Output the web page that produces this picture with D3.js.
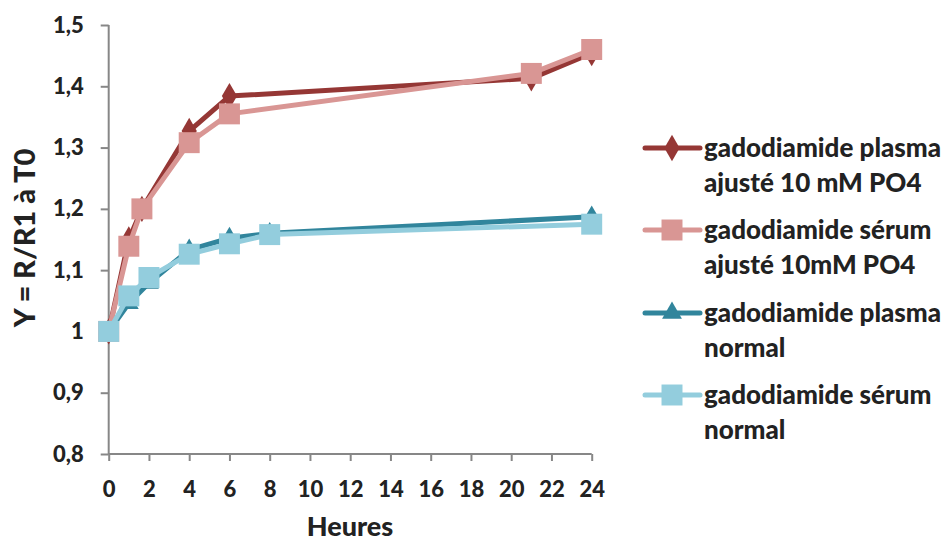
<!DOCTYPE html>
<html><head><meta charset="utf-8">
<script src="https://cdn.jsdelivr.net/npm/d3@7"></script>
<style>body{margin:0;background:#fff}svg{display:block}text{font-family:Lato,"Open Sans",sans-serif;font-weight:900;fill:#222}</style>
</head><body><svg id="c" width="946" height="543"></svg>
<script>
const xTicks = [0,2,4,6,8,10,12,14,16,18,20,22,24];
const yTicks = [0.8,0.9,1.0,1.1,1.2,1.3,1.4,1.5];
const yTickLabels = ["0,8","0,9","1","1,1","1,2","1,3","1,4","1,5"];
const hoursPlasmaPO4 = [0,1,1.65,4,6,21,24];
const plasmaPO4 = [1.0,1.15,1.2,1.327,1.384,1.413,1.454];
const hoursSerumPO4 = [0,1,1.65,4,6,21,24];
const serumPO4 = [1.0,1.139,1.2,1.308,1.355,1.421,1.46];
const hoursPlasmaNormal = [0,1,2,4,6,8,24];
const plasmaNormal = [1.0,1.046,1.079,1.133,1.152,1.16,1.187];
const hoursSerumNormal = [0,1,2,4,6,8,24];
const serumNormal = [1.0,1.058,1.088,1.126,1.143,1.158,1.175];
const seriesNames = [["gadodiamide plasma","ajusté 10 mM PO4"],["gadodiamide sérum","ajusté 10mM PO4"],["gadodiamide plasma","normal"],["gadodiamide sérum","normal"]];
const colors = ["#953735","#d99694","#31859c","#93cddd"];
const shapes = ["diamond","square","triangle","square"];

const series = [
  {x:hoursPlasmaPO4,y:plasmaPO4},
  {x:hoursSerumPO4,y:serumPO4},
  {x:hoursPlasmaNormal,y:plasmaNormal},
  {x:hoursSerumNormal,y:serumNormal}
];

const svg = d3.select("#c");
const x = d3.scaleLinear().domain([0,24]).range([108.7,591.7]);
const y = d3.scaleLinear().domain([0.8,1.5]).range([454,25]);
const axisColor = "#878787";

// axes
const gx = svg.append("g").attr("transform","translate(0,454)")
  .call(d3.axisBottom(x).tickValues(xTicks).tickSize(7).tickPadding(20).tickFormat(d=>d));
const gy = svg.append("g").attr("transform","translate(108.7,0)")
  .call(d3.axisLeft(y).tickValues(yTicks).tickSize(8).tickPadding(17).tickFormat((d,i)=>yTickLabels[i]));
[gx,gy].forEach(g=>{
  g.select(".domain").attr("stroke",axisColor).attr("stroke-width",2);
  g.selectAll(".tick line").attr("stroke",axisColor).attr("stroke-width",2);
  g.selectAll(".tick text").style("font-size","22px").attr("fill","#222");
});
gx.select(".domain").attr("d","M108.7,0H591.7");
gy.select(".domain").attr("d","M0,25V454");

svg.append("text").attr("x",350).attr("y",536).attr("text-anchor","middle").style("font-size","27px").text("Heures");
svg.append("text").attr("transform","translate(35,238) rotate(-90)").attr("text-anchor","middle").style("font-size","29px").text("Y = R/R1 à T0");

function symbolFor(s){
  if(s==="diamond") return d3.symbol().type(d3.symbolDiamond).size(200)();
  if(s==="triangle") return d3.symbol().type(d3.symbolTriangle).size(170)();
  return d3.symbol().type(d3.symbolSquare).size(440)();
}

const line = d3.line().x(d=>x(d[0])).y(d=>y(d[1]));
series.forEach((s,i)=>{
  const pts = s.x.map((v,j)=>[v,s.y[j]]);
  const g = svg.append("g");
  g.append("path").attr("d",line(pts)).attr("fill","none").attr("stroke",colors[i]).attr("stroke-width",5).attr("stroke-linejoin","round");
  g.selectAll("path.m").data(pts).enter().append("path").attr("class","m")
    .attr("transform",d=>`translate(${x(d[0])},${y(d[1])})`)
    .attr("d",symbolFor(shapes[i])).attr("fill",colors[i]);
});

// legend
const legendY = [148,230,313,395];
seriesNames.forEach((nm,i)=>{
  const ly = legendY[i];
  const g = svg.append("g");
  g.append("line").attr("x1",645).attr("x2",700).attr("y1",ly).attr("y2",ly).attr("stroke",colors[i]).attr("stroke-width",5).attr("stroke-linecap","round");
  g.append("path").attr("transform",`translate(672,${ly})`).attr("d",symbolFor(shapes[i])).attr("fill",colors[i]);
  g.append("text").attr("x",704).attr("y",ly+9).style("font-size","26px").text(nm[0]);
  g.append("text").attr("x",704).attr("y",ly+44).style("font-size","26px").text(nm[1]);
});
</script></body></html>
